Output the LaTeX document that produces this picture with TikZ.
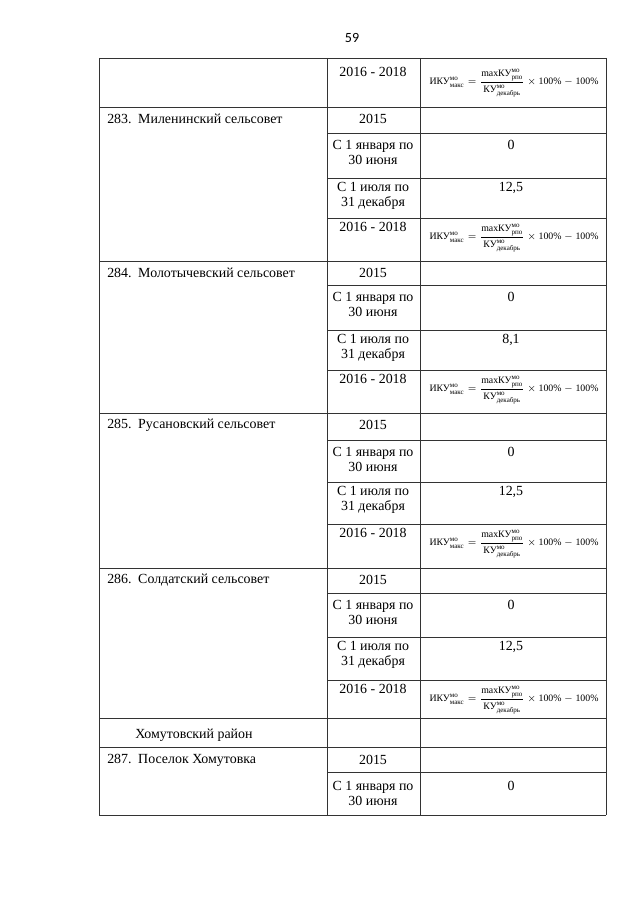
\documentclass[tikz,border=0pt]{standalone}
\usepackage{fontspec}
\usepackage{amsmath}
\setmainfont{Liberation Serif}
\newfontfamily\pgnum{Carlito}

\tikzset{
  rule/.style={line width=0.5pt, black!80},
  txt/.style={font=\fontsize{9.9}{10.7}\selectfont, inner sep=0pt, align=center},
  namebox/.style={txt, anchor=west},
  frm/.style={font=\fontsize{7}{7.5}\selectfont, inner sep=0pt}
}
\newcommand\ikuform{$\text{ИКУ}^{\text{мо}}_{\text{макс}}=\dfrac{\text{maxКУ}^{\text{мо}}_{\text{рпо}}}{\text{КУ}^{\text{мо}}_{\text{декабрь}}}\times\text{100\%}-\text{100\%}$}

\begin{document}
\begin{tikzpicture}[x=0.025cm, y=-0.025cm]
    \useasboundingbox (0,0) rectangle (640,905);
    \node[font=\pgnum\fontsize{10}{12}\selectfont] (page) at (352,38) {59};

    % table rules
    \draw[rule] (99,58) -- (606,58);
    \foreach \x in {99,327,420,606}
        \draw[rule] (\x,58) -- (\x,815);
    \foreach \y in {107,261,413,568,718,747,815}
        \draw[rule] (99,\y) -- (606,\y);
    \foreach \y in {133,178,218,285,330,370,440,482,524,593,637,680,772}
        \draw[rule] (327,\y) -- (606,\y);

    % end of previous block
    \node[txt] (yr0) at (373,72) {2016 - 2018};
    \node[frm] (f0) at (514,83) {\ikuform};

    % blocks
    \foreach \n/\nm/\v/\ya/\yb/\yc/\yd in {
        283/Миленинский/12{,}5/107/133/178/218,
        284/Молотычевский/8{,}1/261/285/330/370,
        285/Русановский/12{,}5/413/440/482/524,
        286/Солдатский/12{,}5/568/593/637/680}
    {
        \node[namebox] (nm\n) at (107,\ya+12) {\makebox[22pt][l]{\n.}\nm\ сельсовет};
        \node[txt] (a\n) at (373,\ya+12) {2015};
        \node[txt] (b\n) at (373,\yb+19.5) {С 1 января по\\30 июня};
        \node[txt] (vb\n) at (511,\yb+12) {0};
        \node[txt] (c\n) at (373,\yc+17.5) {С 1 июля по\\31 декабря};
        \node[txt] (vc\n) at (511,\yc+10) {\v};
        \node[txt] (d\n) at (373,\yd+9) {2016 - 2018};
        \node[frm] (f\n) at (514,\yd+20) {\ikuform};
    }

    \node[namebox] (rayon) at (135,735) {Хомутовский район};
    \node[namebox] (nm287) at (107,760) {\makebox[22pt][l]{287.}Поселок Хомутовка};
    \node[txt] (a287) at (373,760) {2015};
    \node[txt] (b287) at (373,793) {С 1 января по\\30 июня};
    \node[txt] (vb287) at (511,786) {0};
\end{tikzpicture}
\end{document}
